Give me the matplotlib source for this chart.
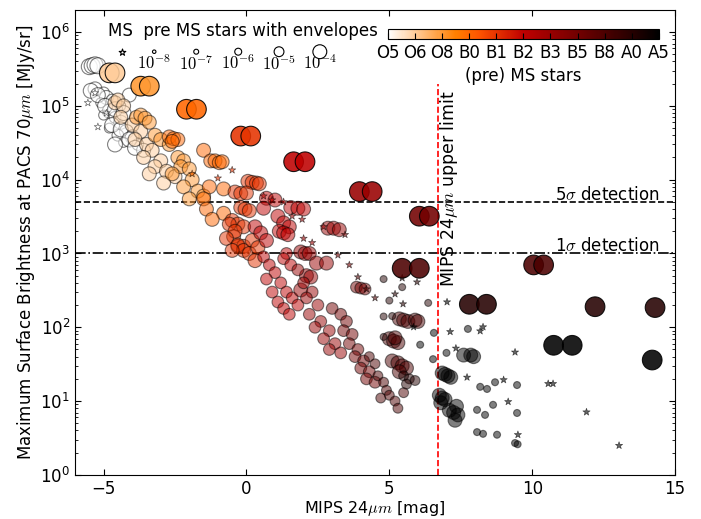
import numpy as np
import matplotlib
matplotlib.use('Agg')
import matplotlib.pyplot as plt
from matplotlib.colors import Normalize

# spectral types on the colour bar (index 0..10)
sp_labels = ['O5', 'O6', 'O8', 'B0', 'B1', 'B2', 'B3', 'B5', 'B8', 'A0', 'A5']
env_labels = [-8, -7, -6, -5, -4]

# pre MS stars with envelopes: MIPS 24um [mag], PACS 70um [MJy/sr], spectral index, log envelope mass
env_x = [-5.5, -5.4, -5.3, -5.2, -5.3, -5.0, -4.9, -5.1, -4.7, -4.8, -4.6, -5.0, -4.4, -4.8, -4.2, -4.5,
         -4.0, -3.8, -4.3, -3.6, -4.1, -4.4,
         -5.45, -5.2, -4.95, -4.6, -4.3, -4.7, -4.4, -4.1, -4.6, -3.9,
         -4.6, -4.5, -4.3, -4.4, -4.0, -3.7, -3.9, -3.5, -3.3, -3.6, -3.0, -3.2, -2.8, -2.5, -3.4, -2.9,
         -3.85, -3.7, -3.55, -3.4, -3.2, -3.0, -2.7, -2.4, -2.2, -2.3, -2.0, -2.6, -1.9, -2.2, -1.7, -1.5, -2.0,
         -2.7, -2.55, -2.4, -2.6, -1.5, -1.25, -1.1, -0.95, -0.85, -1.3, -0.8, -1.5, -1.4, -0.8, -1.2,
         0.05, 0.2, 0.35, 0.45, -0.2, -0.05, 0.1, -0.4, -0.2, 0.0, -0.5, -0.3, -0.1, -0.45, -0.3, -0.1,
         -0.6, -0.4, -0.7, -0.3, -0.1, 0.2, 0.1, 0.4, -0.5, 0.3,
         0.3, 0.5, 0.7, 0.7, 1.0, 0.6, 1.1, 1.3, 1.5, 1.55, 1.8, 2.0, 1.15, 1.3, 1.45,
         0.6, 0.8, 1.0, 0.7, 1.2, 0.9, 1.4, 1.1, 1.6, 1.3, 1.8, 1.5, 1.4, 1.3, 1.55,
         2.85, 3.05, 3.25, 1.9, 2.05, 2.2, 2.1, 2.25, 1.9, 2.45, 2.8,
         1.8, 2.0, 2.3, 2.1, 2.5, 2.2, 2.6, 2.4, 2.9, 2.7, 3.1, 2.9, 3.3,
         3.85, 4.0, 4.15, 3.0, 3.3, 3.5, 3.4, 3.7, 3.6, 3.9, 3.8, 4.1, 4.0, 4.3, 4.2, 4.5,
         4.3, 4.5, 4.6, 4.8, 4.9, 5.0, 5.2, 4.7, 5.3, 5.5,
         5.35, 5.5, 5.65, 5.9, 6.0, 5.0, 5.15, 5.3, 5.2, 5.1, 5.3, 5.45, 5.6, 5.35,
         5.5, 5.7, 5.9, 5.6, 4.8, 5.45, 5.0, 4.8, 5.1, 4.8, 6.36,
         7.6, 7.85, 7.95, 6.85, 6.95, 7.05, 7.15, 6.75, 6.85, 6.95, 6.8, 7.1, 7.25, 7.4, 7.3, 7.35,
         7.75, 8.18, 8.42, 8.7, 9.47, 8.07, 8.35, 8.63, 9.47, 8.07, 8.28, 8.77, 9.4, 9.49, 6.56, 7.0, 6.53, 6.08]
env_y = [3.4e5, 3.5e5, 3.6e5, 3.5e5, 1.7e5, 1.5e5, 1.3e5, 1.1e5, 1.2e5, 8.5e4, 7e4, 7.5e4, 6e4, 5e4, 4.5e4, 4e4,
         3.8e4, 3e4, 3.2e4, 2.5e4, 1.4e5, 1e5,
         1.6e5, 1.4e5, 1.0e5, 9e4, 8e4, 5.5e4, 4.8e4, 3.5e4, 3e4, 2.7e4,
         1.1e5, 1.2e5, 1e5, 7e4, 5.5e4, 4.5e4, 3.5e4, 3e4, 2.5e4, 2e4, 1.8e4, 1.5e4, 1.3e4, 1.1e4, 1.2e4, 9e3,
         7e4, 7.5e4, 6.8e4, 6e4, 4e4, 3.5e4, 3e4, 2e4, 1.8e4, 1.5e4, 1.4e4, 1.2e4, 1e4, 8e3, 7e3, 6e3, 5.5e3,
         3.8e4, 3.6e4, 3.5e4, 3.3e4, 2.5e4, 1.8e4, 1.8e4, 1.7e4, 1.75e4, 8e3, 7.5e3, 5.5e3, 4e3, 3.5e3, 2.9e3,
         9.5e3, 9.2e3, 9e3, 8.8e3, 4.2e3, 4e3, 3.8e3, 6.8e3, 6.5e3, 6.6e3, 2.8e3, 2.5e3, 2.3e3, 1.7e3, 1.25e3, 1.25e3,
         2.5e3, 2e3, 1.6e3, 1.3e3, 1.1e3, 1.5e3, 1e3, 1.2e3, 1.1e3, 800,
         2.3e3, 1.9e3, 1.5e3, 5.6e3, 5.3e3, 4.1e3, 3.2e3, 2.6e3, 2.3e3, 4.2e3, 4.1e3, 4e3, 2e3, 1.9e3, 1.8e3,
         900, 700, 550, 450, 400, 300, 300, 220, 250, 180, 200, 150, 1e3, 850, 700,
         2.2e3, 2.2e3, 2.1e3, 1.05e3, 1e3, 1e3, 500, 480, 320, 740, 740,
         600, 400, 300, 250, 200, 150, 120, 100, 90, 70, 60, 50, 45,
         350, 340, 330, 180, 150, 120, 90, 80, 60, 50, 40, 35, 28, 25, 20, 18,
         40, 32, 22, 18, 14, 12, 10, 11, 8, 13,
         130, 125, 120, 125, 120, 70, 65, 62, 72, 35, 33, 30, 28, 25,
         22, 20, 19, 17, 450, 350, 230, 140, 142, 74, 214,
         42, 42, 40, 24, 23, 22, 21, 12, 11, 10.5, 9.5, 7.5, 7, 6.5, 5.5, 8.5,
         95, 15.6, 14.6, 18, 16.5, 7.6, 6.5, 8.9, 6.9, 3.8, 3.6, 3.5, 2.7, 2.6, 84, 45, 37, 58]
env_sp = [0] * 32 + [1] * 16 + [2] * 17 + [3] * 15 + [4] * 16 + [4] * 10 + [5] * 15 + [5] * 15 + \
         [6] * 11 + [6] * 13 + [7] * 16 + [8] * 10 + [8] * 14 + [9] * 11 + [10] * 16 + [10] * 18
env_m = [-3.6, -3.6, -3.6, -3.6, -4, -4.5, -4, -5, -4.5, -4, -4.5, -5, -4, -5, -4, -4.5, -4, -4.5, -5, -4, -4, -5] + \
        [-3.8] * 10 + \
        [-4] * 16 + [-4] * 17 + [-4] * 15 + [-4] * 16 + [-4] * 10 + [-4] * 15 + [-4.5] * 15 + \
        [-4] * 11 + [-4.5] * 13 + [-4.5] * 16 + [-5] * 10 + [-4] * 14 + \
        [-5, -5, -5, -5, -6, -6, -6, -6, -6, -6, -6] + [-4] * 16 + [-6] * 18

# best fitting envelope models (larger symbols)
big_x = [-4.8, -4.6, -3.7, -3.4, -2.1, -1.75, -0.2, 0.15, 1.65, 2.05, 3.95, 4.4, 6.05, 6.4,
         5.45, 6.05, 10.05, 10.4, 7.8, 8.4, 12.2, 14.3, 10.75, 11.4, 14.2]
big_y = [2.8e5, 2.8e5, 1.85e5, 1.85e5, 9e4, 9e4, 3.9e4, 3.9e4, 1.75e4, 1.75e4, 6900, 6900, 3200, 3200,
         630, 630, 700, 700, 205, 205, 190, 185, 57, 57, 36]
big_sp = [1, 1, 2, 2, 3, 3, 4, 4, 5, 5, 6, 6, 7, 7, 8, 8, 8, 8, 9, 9, 9, 9, 10, 10, 10]

# main sequence stars (no envelope)
ms_x = [-5.55, -5.2, -4.9, -5.3, -1.9, -1.0, -0.5, 0.6, 0.9, 1.3, 1.6, 1.95, 2.7, 3.45, 2.3, 2.0,
        3.2, 3.6, 3.9, 4.2, 4.5,
        5.45, 5.97, 5.2, 5.48, 7.02, 5.85, 7.13, 8.18, 8.28, 9.4, 7.72, 9.0, 10.56, 10.73, 9.16,
        11.9, 9.5, 13.04, 7.33]
ms_y = [1.1e5, 5.2e4, 8e4, 1.5e5, 1.2e4, 1.05e4, 1.35e4, 6e3, 5.3e3, 5e3, 3.2e3, 2.9e3, 2.3e3, 1.8e3,
        1.4e3, 1.6e3, 950, 700, 480, 330, 250,
        465, 410, 282, 207, 220, 101, 87, 89, 101, 46, 21, 19.4, 17.2, 17.2, 9.8, 7.1, 3.5, 2.5, 52]
ms_sp = [0, 0, 0, 0, 3, 4, 4, 5, 5, 5, 6, 6, 6, 7, 6, 6, 7, 7, 8, 8, 8] + [9] * 4 + [10] * 15

cmap = plt.get_cmap('gist_heat_r')
norm = Normalize(vmin=0, vmax=10)


def msize(m):
    return 100 * 2.0 ** (np.asarray(m, dtype=float) + 4)


fig = plt.figure(figsize=(7.01, 5.19), dpi=100)
ax = fig.add_axes([0.107, 0.085, 0.856, 0.896])

ax.scatter(env_x, env_y, s=msize(env_m), c=env_sp, cmap=cmap, norm=norm,
           edgecolors='k', linewidths=0.8, alpha=0.5, zorder=3)
ax.scatter(ms_x, ms_y, s=30, marker='*', c=ms_sp, cmap=cmap, norm=norm,
           edgecolors='k', linewidths=0.5, alpha=0.6, zorder=3)
ax.scatter(big_x, big_y, s=200, c=big_sp, cmap=cmap, norm=norm,
           edgecolors='k', linewidths=0.8, alpha=0.88, zorder=4)

ax.axhline(5000, color='k', ls='--', lw=1.2, zorder=2)
ax.axhline(1000, color='k', ls='-.', lw=1.2, zorder=2)
ax.plot([6.7, 6.7], [1, 2e5], color='r', ls='--', lw=1.2, zorder=2)

ax.text(14.45, 5300, r'5$\sigma$ detection', ha='right', va='baseline', fontsize=12, math_fontfamily='cm')
ax.text(14.45, 1080, r'1$\sigma$ detection', ha='right', va='baseline', fontsize=12, math_fontfamily='cm')
ax.text(7.1, 7500, r'MIPS 24$\mu m$ upper limit', rotation=90, ha='center', va='center',
        fontsize=12.5, math_fontfamily='cm')

ax.set_yscale('log')
ax.set_xlim(-6, 15)
ax.set_ylim(1, 2e6)
ax.set_xticks([-5, 0, 5, 10, 15])
ax.tick_params(which='both', direction='in', top=True, right=True, labelsize=12)
ax.tick_params(which='major', length=4.5)
ax.tick_params(which='minor', length=2.5)
ax.set_xlabel(r'MIPS 24$\mu m$ [mag]', fontsize=11.5, math_fontfamily='cm', labelpad=1)
ax.set_ylabel(r'Maximum Surface Brightness at PACS 70$\mu m$ [MJy/sr]', fontsize=12,
              math_fontfamily='cm', labelpad=2)

# symbol key
ax.text(0.28, 0.955, 'MS  pre MS stars with envelopes', transform=ax.transAxes,
        ha='center', va='center', fontsize=12)
ax.scatter([0.078], [0.91], s=25, marker='*', facecolors='w', edgecolors='k', linewidths=0.8,
           transform=ax.transAxes, zorder=5)
key_x = [0.132, 0.202, 0.272, 0.34, 0.408]
ax.scatter(key_x, [0.91] * 5, s=msize(env_labels), facecolors='w', edgecolors='k', linewidths=0.8,
           transform=ax.transAxes, zorder=5)
for kx, m in zip(key_x, env_labels):
    ax.text(kx, 0.884, r'$10^{%d}$' % m, transform=ax.transAxes, ha='center', va='center',
            fontsize=12, math_fontfamily='cm')

# colour bar for spectral type
cax = fig.add_axes([0.553, 0.925, 0.387, 0.019])
sm = plt.cm.ScalarMappable(cmap=cmap, norm=norm)
cb = fig.colorbar(sm, cax=cax, orientation='horizontal', ticks=range(11))
cb.ax.set_xticklabels(sp_labels, fontsize=12)
cb.ax.tick_params(direction='in', length=4)
cb.set_label('(pre) MS stars', fontsize=12)

fig.savefig('out.png', dpi=100)
